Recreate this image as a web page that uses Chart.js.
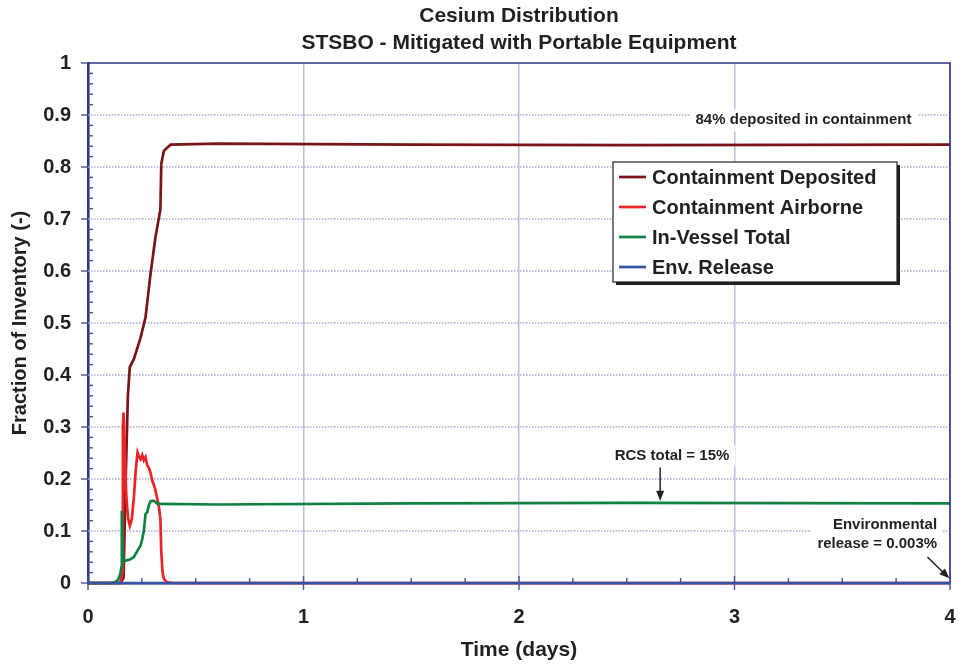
<!DOCTYPE html>
<html>
<head>
<meta charset="utf-8">
<script src="https://cdn.jsdelivr.net/npm/chart.js@4.4.0/dist/chart.umd.min.js"></script>
<style>
  html, body { margin: 0; padding: 0; background: #fff; }
</style>
</head>
<body>
<canvas id="chart" width="958" height="666"></canvas>
<script>
// values (time in days, fraction of inventory)
const depTime   = [0, 0.15, 0.165, 0.175, 0.185, 0.194, 0.213, 0.244, 0.267, 0.290, 0.313, 0.336, 0.340, 0.352, 0.383, 0.6, 1.5, 2.5, 4.0];
const depValues = [0, 0, 0.01, 0.2, 0.36, 0.415, 0.431, 0.472, 0.511, 0.594, 0.665, 0.719, 0.806, 0.831, 0.843, 0.845, 0.843, 0.842, 0.843];

const airTime   = [0, 0.15, 0.158, 0.162, 0.165, 0.170, 0.178, 0.186, 0.194, 0.203, 0.213, 0.222, 0.230, 0.237, 0.244, 0.252, 0.259, 0.267, 0.275, 0.282, 0.290, 0.298, 0.306, 0.313, 0.321, 0.329, 0.336, 0.340, 0.346, 0.352, 0.365, 0.380, 0.4, 4];
const airValues = [0, 0, 0.02, 0.30, 0.328, 0.26, 0.165, 0.125, 0.110, 0.122, 0.165, 0.22, 0.251, 0.243, 0.238, 0.246, 0.236, 0.242, 0.226, 0.222, 0.212, 0.197, 0.188, 0.178, 0.163, 0.146, 0.123, 0.06, 0.02, 0.008, 0.002, 0.001, 0, 0];

const vesTime   = [0, 0.10, 0.12, 0.135, 0.144, 0.150, 0.155, 0.157, 0.161, 0.165, 0.175, 0.194, 0.213, 0.225, 0.244, 0.252, 0.259, 0.267, 0.275, 0.282, 0.290, 0.298, 0.306, 0.320, 0.335, 0.6, 1.5, 2.5, 4];
const vesValues = [0, 0, 0.001, 0.004, 0.010, 0.018, 0.03, 0.139, 0.06, 0.042, 0.043, 0.045, 0.050, 0.059, 0.072, 0.085, 0.10, 0.133, 0.136, 0.149, 0.157, 0.158, 0.158, 0.153, 0.152, 0.151, 0.153, 0.154, 0.153];

const envTime   = [0, 1, 2, 3, 4];
const envValues = [0, 0, 0, 0, 0];

const seriesNames = ['Containment Deposited', 'Containment Airborne', 'In-Vessel Total', 'Env. Release'];
const seriesColors = ['#7b1417', '#ee2328', '#0f8142', '#3453a4'];

const xTickLabels = [0, 1, 2, 3, 4];
const yTickLabels = [0, 0.1, 0.2, 0.3, 0.4, 0.5, 0.6, 0.7, 0.8, 0.9, 1];

const titleLines = ['Cesium Distribution', 'STSBO - Mitigated with Portable Equipment'];

const NAVY = '#2c3483';
const TICK = '#4a4f96';
const FONT = "'Liberation Sans', Arial, Helvetica, sans-serif";

function pts(t, v) { return t.map((d, i) => ({ x: d, y: v[i] })); }

// later series sit on top, as in the original
const datasets = [
  [depTime, depValues], [airTime, airValues], [vesTime, vesValues], [envTime, envValues]
].map(([t, v], i) => ({
  label: seriesNames[i],
  data: pts(t, v),
  borderColor: seriesColors[i],
  backgroundColor: seriesColors[i],
  borderWidth: 2.7,
  pointRadius: 0,
  tension: 0,
  order: 3 - i,
  clip: 3
}));

function arrow(ctx, x1, y1, x2, y2) {
  const ang = Math.atan2(y2 - y1, x2 - x1);
  const hl = 10, hw = 4;
  ctx.beginPath();
  ctx.moveTo(x1, y1);
  ctx.lineTo(x2 - Math.cos(ang) * hl * 0.8, y2 - Math.sin(ang) * hl * 0.8);
  ctx.stroke();
  ctx.beginPath();
  ctx.moveTo(x2, y2);
  ctx.lineTo(x2 - hl * Math.cos(ang) + hw * Math.sin(ang), y2 - hl * Math.sin(ang) - hw * Math.cos(ang));
  ctx.lineTo(x2 - hl * Math.cos(ang) - hw * Math.sin(ang), y2 - hl * Math.sin(ang) + hw * Math.cos(ang));
  ctx.closePath();
  ctx.fill();
}

function boxedText(ctx, lines, px, py, align, lh) {
  ctx.font = 'bold 15px ' + FONT;
  ctx.textAlign = align;
  ctx.textBaseline = 'middle';
  const w = Math.max(...lines.map(s => ctx.measureText(s).width));
  const left = align === 'right' ? px - w : px - w / 2;
  ctx.fillStyle = '#fff';
  ctx.fillRect(left - 6, py - 11, w + 12, lh * (lines.length - 1) + 22);
  ctx.fillStyle = '#231f20';
  lines.forEach((s, i) => ctx.fillText(s, px, py + i * lh));
}

const decor = {
  id: 'decor',
  beforeDatasetsDraw(chart) {
    const { ctx, chartArea: a, scales: { x, y } } = chart;
    ctx.save();
    // dotted horizontal grid
    ctx.strokeStyle = '#a5a5d4';
    ctx.lineWidth = 1.5;
    ctx.setLineDash([1.5, 1.5]);
    yTickLabels.forEach(v => {
      if (v === 0 || v === 1) return;
      const py = y.getPixelForValue(v);
      ctx.beginPath(); ctx.moveTo(a.left, py); ctx.lineTo(a.right, py); ctx.stroke();
    });
    ctx.setLineDash([]);
    // annotations
    boxedText(ctx, ['84% deposited in containment'], x.getPixelForValue(3.32), y.getPixelForValue(0.89), 'center', 19);
    boxedText(ctx, ['Environmental', 'release = 0.003%'], x.getPixelForValue(3.94), y.getPixelForValue(0.112), 'right', 19);
    boxedText(ctx, ['RCS total = 15%'], x.getPixelForValue(2.71), y.getPixelForValue(0.245), 'center', 19);
    ctx.strokeStyle = '#231f20';
    ctx.fillStyle = '#231f20';
    ctx.lineWidth = 1.5;
    arrow(ctx, x.getPixelForValue(2.655), y.getPixelForValue(0.222), x.getPixelForValue(2.655), y.getPixelForValue(0.158));
    arrow(ctx, x.getPixelForValue(3.895), y.getPixelForValue(0.05), x.getPixelForValue(3.997), y.getPixelForValue(0.009));
    ctx.restore();
  },
  afterDatasetsDraw(chart) {
    const { ctx, chartArea: a, scales: { x, y } } = chart;
    ctx.save();
    // top and right frame
    ctx.strokeStyle = NAVY;
    ctx.lineWidth = 1.6;
    ctx.beginPath();
    ctx.moveTo(a.left, a.top); ctx.lineTo(a.right, a.top); ctx.lineTo(a.right, a.bottom);
    ctx.stroke();
    // tick marks: majors stick out, minors point inward
    ctx.strokeStyle = TICK;
    ctx.lineWidth = 1.4;
    for (let i = 0; i <= 50; i++) {
      const py = y.getPixelForValue(i * 0.02);
      ctx.beginPath();
      if (i % 5 === 0) { ctx.moveTo(a.left - 7, py); ctx.lineTo(a.left, py); }
      else { ctx.moveTo(a.left, py); ctx.lineTo(a.left + 5, py); }
      ctx.stroke();
    }
    for (let i = 0; i <= 16; i++) {
      const px = x.getPixelForValue(i * 0.25);
      ctx.beginPath();
      if (i % 4 === 0) { ctx.moveTo(px, a.bottom + 7); ctx.lineTo(px, a.bottom - 7); }
      else { ctx.moveTo(px, a.bottom); ctx.lineTo(px, a.bottom - 5); }
      ctx.stroke();
    }
    // legend box with drop shadow
    const lx = a.left + 525, ly = a.top + 99, lw = 284, lh = 120;
    ctx.fillStyle = '#231f20';
    ctx.fillRect(lx + 3, ly + 3, lw, lh);
    ctx.fillStyle = '#fff';
    ctx.fillRect(lx, ly, lw, lh);
    ctx.strokeStyle = '#231f20';
    ctx.lineWidth = 1.2;
    ctx.strokeRect(lx, ly, lw, lh);
    ctx.font = 'bold 20px ' + FONT;
    ctx.textAlign = 'left';
    ctx.textBaseline = 'middle';
    chart.data.datasets.forEach((ds, i) => {
      const ry = ly + 15 + i * 30;
      ctx.strokeStyle = ds.borderColor;
      ctx.lineWidth = 2.7;
      ctx.beginPath(); ctx.moveTo(lx + 6, ry); ctx.lineTo(lx + 33, ry); ctx.stroke();
      ctx.fillStyle = '#231f20';
      ctx.fillText(ds.label, lx + 39, ry + 1);
    });
    ctx.restore();
  }
};

new Chart(document.getElementById('chart'), {
  type: 'line',
  data: { datasets },
  options: {
    responsive: false,
    animation: false,
    layout: { padding: { left: 0, right: 8, top: 0, bottom: 0 } },
    plugins: {
      legend: { display: false },
      tooltip: { enabled: false },
      title: {
        display: true,
        text: titleLines,
        fullSize: false,
        color: '#231f20',
        font: { family: FONT, size: 21, weight: 'bold', lineHeight: 27 / 21 },
        padding: { top: 3, bottom: 6 }
      }
    },
    scales: {
      x: {
        type: 'linear',
        min: 0, max: 4,
        afterFit(s) { s.height = 83; s.paddingLeft = 0; s.paddingRight = 0; },
        afterBuildTicks(s) { s.ticks = xTickLabels.map(v => ({ value: v })); },
        ticks: { color: '#231f20', padding: 22, maxRotation: 0, font: { family: FONT, size: 20, weight: 'bold' } },
        grid: { color: '#bcbcdf', lineWidth: 1.5, drawTicks: false },
        border: { color: NAVY, width: 2.6 },
        title: { display: true, text: 'Time (days)', color: '#231f20', font: { family: FONT, size: 21, weight: 'bold', lineHeight: 1.2 }, padding: { top: 0, bottom: 3 } }
      },
      y: {
        min: 0, max: 1,
        afterFit(s) { s.width = 88; s.paddingTop = 0; s.paddingBottom = 0; },
        afterBuildTicks(s) { s.ticks = yTickLabels.map(v => ({ value: v })); },
        ticks: { color: '#231f20', padding: 17, font: { family: FONT, size: 20, weight: 'bold' }, callback: v => String(+v.toFixed(1)) },
        grid: { drawOnChartArea: false, drawTicks: false },
        border: { color: NAVY, width: 2.6 },
        title: { display: true, text: 'Fraction of Inventory (-)', color: '#231f20', font: { family: FONT, size: 20, weight: 'bold', lineHeight: 1.2 }, padding: { top: 8, bottom: 0 } }
      }
    }
  },
  plugins: [decor]
});
</script>
</body>
</html>
